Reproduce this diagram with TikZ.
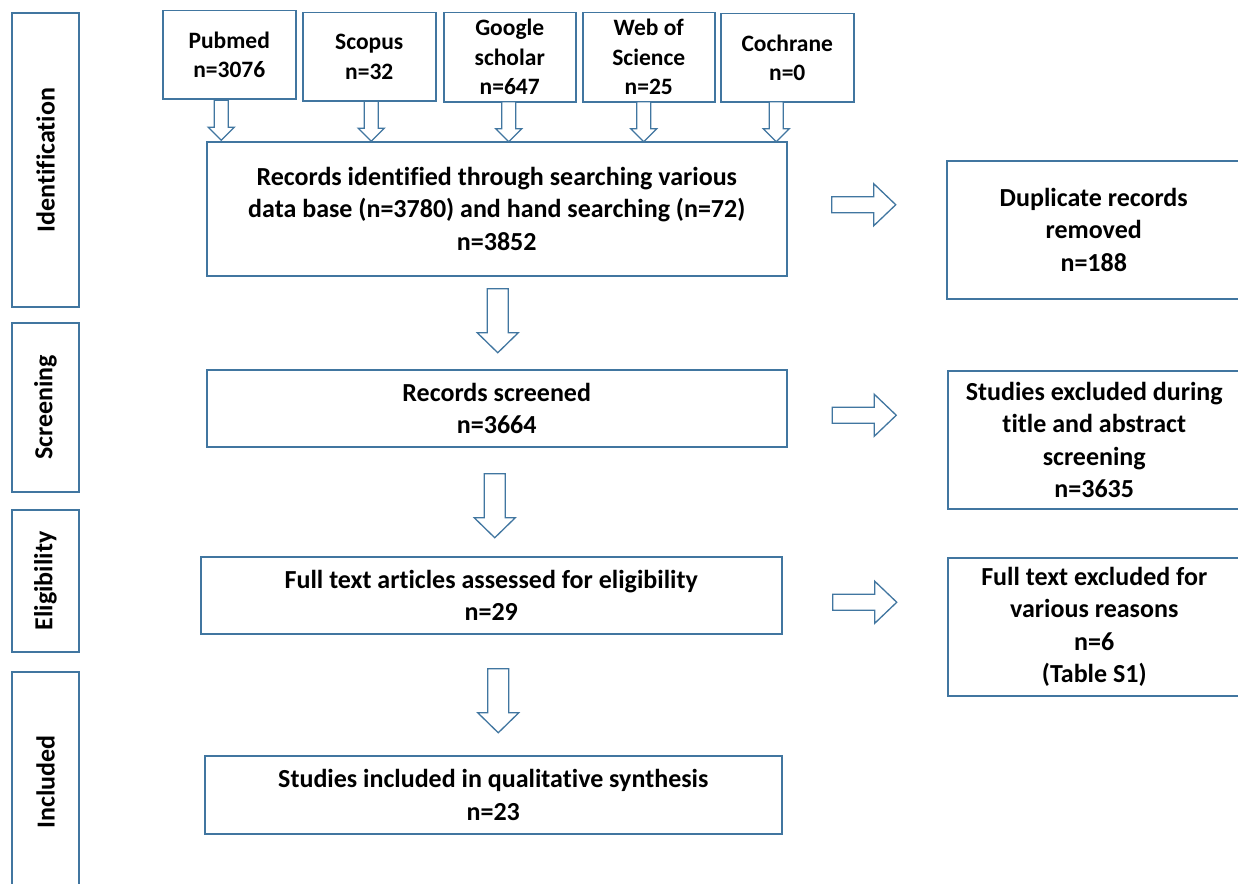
\documentclass[tikz,border=0pt]{standalone}
\usepackage{fontspec}
\setmainfont{Carlito}[Ligatures=NoCommon]
\usetikzlibrary{calc}
\definecolor{bcol}{RGB}{65,118,160}
\tikzset{
  box/.style={draw=bcol, line width=1.5pt, align=center, inner sep=0pt, anchor=north west,
    font=\bfseries\fontsize{26}{32.5}\selectfont},
  src/.style={box, font=\bfseries\fontsize{23.5}{29.5}\selectfont},
  stage/.style={draw=bcol, line width=1.5pt, rotate=90, inner sep=0pt, minimum height=67pt,
    font=\bfseries\fontsize{26}{30}\selectfont},
  arr/.style={draw=bcol, line width=1.3pt, fill=white, line join=miter},
  darrS/.pic={\draw[arr] (-7,-20) -- (-7,7) -- (-13,7) -- (0,20) -- (13,7) -- (7,7) -- (7,-20) -- cycle;},
  darrB/.pic={\draw[arr] (-10.5,-32) -- (-10.5,12) -- (-20.5,12) -- (0,32) -- (20.5,12) -- (10.5,12) -- (10.5,-32) -- cycle;},
  rarr/.pic={\draw[arr] (-32,-8) -- (10,-8) -- (10,-21) -- (32,0) -- (10,21) -- (10,8) -- (-32,8) -- cycle;}
}
\begin{document}
\begin{tikzpicture}[x=1pt,y=-1pt]
\useasboundingbox (0,0) rectangle (1238,883);
\clip (0,0) rectangle (1238,883);
\fill[white] (0,0) rectangle (1238,883);

% stage labels
\node[stage, minimum width=294pt] (sid) at (45.5,160) {Identification};
\node[stage, minimum width=169pt] (ssc) at (45.5,407.5) {Screening};
\node[stage, minimum width=142pt] (sel) at (45.5,581) {Eligibility};
\node[stage, minimum width=220pt] (sin) at (45.5,782) {Included};

% sources
\node[src, minimum width=133pt, minimum height=88pt] (pub) at (162,10) {Pubmed\\n=3076};
\node[src, minimum width=133pt, minimum height=88pt] (sco) at (302,12) {Scopus\\n=32};
\node[src, minimum width=132pt, minimum height=89pt] (goo) at (443,12) {Google\\scholar\\n=647};
\node[src, minimum width=132pt, minimum height=89pt] (web) at (582,12) {Web of\\Science\\n=25};
\node[src, minimum width=133pt, minimum height=88pt] (coc) at (720,13) {Cochrane\\n=0};

% main column
\node[box, minimum width=580pt, minimum height=134pt] (rec) at (206,141)
  {Records identified through searching various\\data base (n=3780) and hand searching (n=72)\\n=3852};
\node[box, minimum width=580pt, minimum height=77pt] (scr) at (206,369) {Records screened\\n=3664};
\node[box, minimum width=581pt, minimum height=77pt] (ful) at (200,556) {Full text articles assessed for eligibility\\n=29};
\node[box, minimum width=577pt, minimum height=78pt] (inc) at (204,755) {Studies included in qualitative synthesis\\n=23};

% right column
\node[box, minimum width=294pt, minimum height=138pt] (dup) at (946,160) {Duplicate records\\removed\\n=188};
\node[box, minimum width=293pt, minimum height=138pt] (exc) at (947,370) {Studies excluded during\\title and abstract\\screening\\n=3635};
\node[box, minimum width=293pt, minimum height=138pt] (fte) at (947,557) {Full text excluded for\\various reasons\\n=6\\(Table S1)};

% small arrows
\pic at ($(pub.south)!0.5!(pub.south|-rec.north)+(-8,0)$) {darrS};
\pic at ($(sco.south)!0.5!(sco.south|-rec.north)+(2,0)$) {darrS};
\pic at ($(goo.south)!0.5!(goo.south|-rec.north)+(-1,0)$) {darrS};
\pic at ($(web.south)!0.5!(web.south|-rec.north)+(-5,0)$) {darrS};
\pic at ($(coc.south)!0.5!(coc.south|-rec.north)+(-11,0)$) {darrS};

% big down arrows
\pic at ($(rec.south)!0.5!(rec.south|-scr.north)+(1,-2)$) {darrB};
\pic at ($(scr.south)!0.5!(scr.south|-ful.north)+(-2,4)$) {darrB};
\pic at ($(ful.south)!0.5!(ful.south|-inc.north)+(7,6)$) {darrB};

% right arrows
\pic at ($(rec.east)!0.5!(dup.west|-rec.east)+(-3,-4)$) {rarr};
\pic at ($(scr.east)!0.5!(exc.west|-scr.east)+(-3,7)$) {rarr};
\pic at ($(ful.east)!0.5!(fte.west|-ful.east)+(0,7)$) {rarr};
\end{tikzpicture}
\end{document}
